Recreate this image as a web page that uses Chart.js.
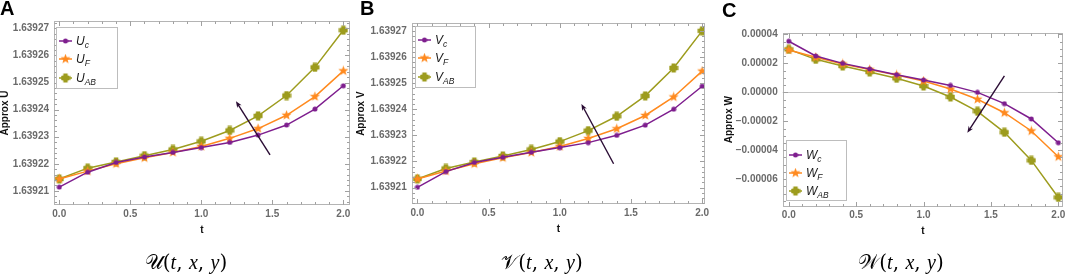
<!DOCTYPE html>
<html><head><meta charset="utf-8">
<script src="https://cdn.jsdelivr.net/npm/chart.js@4.4.1/dist/chart.umd.min.js"></script>
<style>
body{margin:0;background:#fff;overflow:hidden}
#wrap{position:relative;width:1065px;height:276px;overflow:hidden;background:#fff}
canvas.ch{position:absolute;top:0}
.letter{position:absolute;font:bold 20px "Liberation Sans",Arial,sans-serif;line-height:20px;color:#000}
.legend{position:absolute;border:1px solid #bdbdbd;background:#fff;box-sizing:border-box}
.row{position:absolute;left:1px;height:14px;display:flex;align-items:center;font:italic 12px "Liberation Sans",Arial,sans-serif;color:#1a1a1a}
.row canvas{margin-right:3px}
.row sub{font-size:8.5px;vertical-align:-3px;line-height:0}
.cap{position:absolute;top:250px;font:20px "DejaVu Serif","Liberation Serif",serif;white-space:nowrap;transform:translateX(-50%)}
.cap i{font-family:"Liberation Serif",serif;font-style:italic}
</style></head>
<body>
<div id="wrap">
<canvas id="cA" class="ch" width="360" height="276" style="left:0"></canvas>
<canvas id="cB" class="ch" width="360" height="276" style="left:355px"></canvas>
<canvas id="cC" class="ch" width="370" height="276" style="left:710px"></canvas>
<div class="letter" style="left:0;top:-2px">A</div>
<div class="letter" style="left:360px;top:-2px">B</div>
<div class="letter" style="left:722px;top:0px">C</div>
<div class="legend" style="left:56px;top:27px;width:62px;height:62px">
 <div class="row" style="top:6px"><canvas data-m="circle" data-c="#7e1e8e"></canvas><span>U<sub>c</sub></span></div>
 <div class="row" style="top:24px"><canvas data-m="star" data-c="#ff8a1f"></canvas><span>U<sub>F</sub></span></div>
 <div class="row" style="top:43px"><canvas data-m="plus" data-c="#9d9c1e"></canvas><span>U<sub>AB</sub></span></div>
</div>
<div class="legend" style="left:415px;top:26px;width:61px;height:62px">
 <div class="row" style="top:6px"><canvas data-m="circle" data-c="#7e1e8e"></canvas><span>V<sub>c</sub></span></div>
 <div class="row" style="top:24px"><canvas data-m="star" data-c="#ff8a1f"></canvas><span>V<sub>F</sub></span></div>
 <div class="row" style="top:43px"><canvas data-m="plus" data-c="#9d9c1e"></canvas><span>V<sub>AB</sub></span></div>
</div>
<div class="legend" style="left:786px;top:140px;width:61px;height:61px">
 <div class="row" style="top:7px"><canvas data-m="circle" data-c="#7e1e8e"></canvas><span>W<sub>c</sub></span></div>
 <div class="row" style="top:25px"><canvas data-m="star" data-c="#ff8a1f"></canvas><span>W<sub>F</sub></span></div>
 <div class="row" style="top:43px"><canvas data-m="plus" data-c="#9d9c1e"></canvas><span>W<sub>AB</sub></span></div>
</div>
<div class="cap" style="left:186px">𝒰(<i>t</i>, <i>x</i>, <i>y</i>)</div>
<div class="cap" style="left:542px">𝒱(<i>t</i>, <i>x</i>, <i>y</i>)</div>
<div class="cap" style="left:901px">𝒲(<i>t</i>, <i>x</i>, <i>y</i>)</div>
</div>
<script>
// ---------- data ----------
const tValues = [0, 0.2, 0.4, 0.6, 0.8, 1.0, 1.2, 1.4, 1.6, 1.8, 2.0];

const Uc  = [1.6392114, 1.6392169, 1.6392205, 1.6392225, 1.6392242, 1.6392260, 1.6392279, 1.6392306, 1.6392343, 1.6392402, 1.6392488];
const UF  = [1.6392144, 1.6392173, 1.6392200, 1.6392222, 1.6392242, 1.6392264, 1.6392294, 1.6392330, 1.6392379, 1.6392448, 1.6392543];
const UAB = [1.6392144, 1.6392184, 1.6392207, 1.6392230, 1.6392253, 1.6392283, 1.6392323, 1.6392377, 1.6392452, 1.6392556, 1.6392693];

const Vc  = [1.6392101, 1.6392161, 1.6392196, 1.6392216, 1.6392235, 1.6392253, 1.6392272, 1.6392300, 1.6392339, 1.6392400, 1.6392488];
const VF  = [1.6392133, 1.6392163, 1.6392191, 1.6392214, 1.6392234, 1.6392257, 1.6392288, 1.6392325, 1.6392376, 1.6392447, 1.6392546];
const VAB = [1.6392133, 1.6392173, 1.6392198, 1.6392221, 1.6392246, 1.6392276, 1.6392318, 1.6392373, 1.6392451, 1.6392558, 1.6392700];

const Wc  = [3.53e-5, 2.51e-5, 2.00e-5, 1.61e-5, 1.22e-5, 0.85e-5, 0.48e-5, 0.00e-5, -0.78e-5, -1.84e-5, -3.48e-5];
const WF  = [2.93e-5, 2.42e-5, 1.96e-5, 1.57e-5, 1.20e-5, 0.78e-5, 0.23e-5, -0.48e-5, -1.41e-5, -2.67e-5, -4.45e-5];
const WAB = [2.97e-5, 2.28e-5, 1.82e-5, 1.41e-5, 0.97e-5, 0.44e-5, -0.32e-5, -1.31e-5, -2.76e-5, -4.70e-5, -7.26e-5];

const xTicks   = [0, 0.5, 1.0, 1.5, 2.0];
const yTicksUV = [1.63921, 1.63922, 1.63923, 1.63924, 1.63925, 1.63926, 1.63927];
const yTicksW  = [-0.00006, -0.00004, -0.00002, 0, 0.00002, 0.00004];

// annotation arrows (data coordinates)
const arrowU = {from: [1.484, 1.6392233], to: [1.244, 1.6392431]};
const arrowV = {from: [1.378, 1.6392191], to: [1.152, 1.6392420]};
const arrowW = {from: [1.600, 1.13e-5],  to: [1.325, -2.79e-5]};

// ---------- styling ----------
const COL = {c: '#7e1e8e', F: '#ff8a1f', AB: '#9d9c1e'};

function makeMarker(kind, color) {
  const c = document.createElement('canvas');
  const s = kind === 'circle' ? 6 : (kind === 'star' ? 11 : 10);
  c.width = s; c.height = s;
  const g = c.getContext('2d');
  g.fillStyle = color;
  const m = s / 2;
  if (kind === 'circle') {
    g.beginPath(); g.arc(m, m, 2.5, 0, Math.PI * 2); g.fill();
  } else if (kind === 'star') {
    g.beginPath();
    for (let i = 0; i < 10; i++) {
      const r = i % 2 ? 2.2 : 5.3;
      const a = -Math.PI / 2 + i * Math.PI / 5;
      g.lineTo(m + r * Math.cos(a), m + r * Math.sin(a));
    }
    g.closePath(); g.fill();
  } else {
    g.fillRect(m - 2.2, 0.5, 4.4, s - 1);
    g.fillRect(0.5, m - 2.2, s - 1, 4.4);
    g.beginPath(); g.arc(m, m, 3.3, 0, Math.PI * 2); g.fill();
  }
  return c;
}

// legend icons
document.querySelectorAll('.row canvas').forEach(cv => {
  cv.width = 15; cv.height = 12;
  const g = cv.getContext('2d');
  const col = cv.dataset.c;
  g.strokeStyle = col; g.lineWidth = 1.5;
  g.beginPath(); g.moveTo(1, 6); g.lineTo(14, 6); g.stroke();
  const mk = makeMarker(cv.dataset.m, col);
  g.drawImage(mk, 7.5 - mk.width / 2, 6 - mk.height / 2);
});

const framePlugin = {
  id: 'frame',
  beforeDatasetsDraw(chart, args, o) {
    const {ctx, chartArea: a, scales: {x, y}} = chart;
    if (o.zero) {
      const py = Math.round(y.getPixelForValue(0)) + 0.5;
      ctx.save(); ctx.strokeStyle = '#c6c6c6'; ctx.lineWidth = 1;
      ctx.beginPath(); ctx.moveTo(a.left, py); ctx.lineTo(a.right, py); ctx.stroke();
      ctx.restore();
    }
  },
  afterDatasetsDraw(chart, args, o) {
    const {ctx, chartArea: a, scales: {x, y}} = chart;
    ctx.save();
    ctx.strokeStyle = '#b4b4b4'; ctx.lineWidth = 1;
    const L = Math.round(a.left) + 0.5, R = Math.round(a.right) - 0.5;
    const T = Math.round(a.top) + 0.5, B = Math.round(a.bottom) - 0.5;
    ctx.strokeRect(L, T, R - L, B - T);
    ctx.strokeStyle = '#a0a0a0';
    ctx.beginPath();
    const tickX = (v, len) => {
      const px = Math.round(x.getPixelForValue(v)) + 0.5;
      if (px < L || px > R) return;
      ctx.moveTo(px, B); ctx.lineTo(px, B - len);
      ctx.moveTo(px, T); ctx.lineTo(px, T + len);
    };
    const tickY = (v, len) => {
      const py = Math.round(y.getPixelForValue(v)) + 0.5;
      if (py < T || py > B) return;
      ctx.moveTo(L, py); ctx.lineTo(L + len, py);
      ctx.moveTo(R, py); ctx.lineTo(R - len, py);
    };
    const xs = o.xMinor, ys = o.yMinor;
    for (let k = Math.ceil(x.min / xs); k * xs <= x.max; k++) tickX(k * xs, 2.5);
    for (let k = Math.ceil(y.min / ys); k * ys <= y.max; k++) tickY(k * ys, 2.5);
    o.xMajor.forEach(v => tickX(v, 4.5));
    o.yMajor.forEach(v => tickY(v, 4.5));
    ctx.stroke();
    // arrow
    const ar = o.arrow;
    if (ar) {
      const x1 = x.getPixelForValue(ar.from[0]), y1 = y.getPixelForValue(ar.from[1]);
      const x2 = x.getPixelForValue(ar.to[0]),   y2 = y.getPixelForValue(ar.to[1]);
      const ang = Math.atan2(y2 - y1, x2 - x1);
      const hl = 7, hw = 0.38;
      ctx.strokeStyle = '#2a0c34'; ctx.fillStyle = '#2a0c34'; ctx.lineWidth = 1.4;
      ctx.beginPath(); ctx.moveTo(x1, y1);
      ctx.lineTo(x2 - 4 * Math.cos(ang), y2 - 4 * Math.sin(ang)); ctx.stroke();
      ctx.beginPath(); ctx.moveTo(x2, y2);
      ctx.lineTo(x2 - hl * Math.cos(ang - hw), y2 - hl * Math.sin(ang - hw));
      ctx.lineTo(x2 - 4.5 * Math.cos(ang), y2 - 4.5 * Math.sin(ang));
      ctx.lineTo(x2 - hl * Math.cos(ang + hw), y2 - hl * Math.sin(ang + hw));
      ctx.closePath(); ctx.fill();
    }
    ctx.restore();
  }
};

const tickFont = {family: '"Liberation Sans", Arial, sans-serif', size: 10, weight: 'bold'};
const titleFont = {family: '"Liberation Sans", Arial, sans-serif', size: 10, weight: 'bold', lineHeight: 1};

function ds(label, arr, key, kind) {
  return {
    label,
    data: tValues.map((t, i) => ({x: t, y: arr[i]})),
    borderColor: COL[key], backgroundColor: COL[key],
    borderWidth: 1.5, tension: 0,
    pointStyle: makeMarker(kind, COL[key]), pointRadius: 4, pointHoverRadius: 4
  };
}

function makeChart(id, cfg) {
  const cv = document.getElementById(id);
  const W = cv.width, H = cv.height, XH = 36;
  new Chart(cv, {
    type: 'line',
    data: {datasets: cfg.datasets},
    options: {
      responsive: false, animation: false, devicePixelRatio: 1,
      layout: {padding: {left: 0, top: cfg.area.top, right: W - cfg.area.right, bottom: H - cfg.area.bottom - XH}},
      plugins: {
        legend: {display: false}, tooltip: {enabled: false},
        frame: {xMinor: 0.1, yMinor: cfg.yMinor, xMajor: xTicks, yMajor: cfg.yTicks, zero: cfg.zero, arrow: cfg.arrow}
      },
      scales: {
        x: {
          type: 'linear', min: cfg.xmin, max: cfg.xmax,
          grid: {display: false, drawTicks: false}, border: {display: false},
          afterFit: s => { s.height = XH; },
          afterBuildTicks: s => { s.ticks = xTicks.map(v => ({value: v})); },
          ticks: {font: tickFont, color: '#6a6a6a', padding: 3, autoSkip: false, maxRotation: 0,
                  callback: v => Number(v).toFixed(1)},
          title: {display: true, text: 't', font: titleFont, color: '#111', padding: {top: 0, bottom: 6}}
        },
        y: {
          type: 'linear', min: cfg.ymin, max: cfg.ymax,
          grid: {display: false, drawTicks: false}, border: {display: false},
          afterFit: s => { s.width = cfg.area.left; },
          afterBuildTicks: s => { s.ticks = cfg.yTicks.map(v => ({value: v})); },
          ticks: {font: tickFont, color: '#6a6a6a', padding: 5, autoSkip: false,
                  callback: v => Number(v).toFixed(5).replace('-', '\u2212')},
          title: {display: true, text: cfg.ytitle, font: titleFont, color: '#111', padding: {top: cfg.titlePad, bottom: 0}}
        }
      }
    },
    plugins: [framePlugin]
  });
}

makeChart('cA', {
  datasets: [ds('Uc', Uc, 'c', 'circle'), ds('UF', UF, 'F', 'star'), ds('UAB', UAB, 'AB', 'plus')],
  area: {left: 54, right: 350, top: 21, bottom: 205},
  xmin: -0.037, xmax: 2.047, ymin: 1.6392048, ymax: 1.6392727,
  yTicks: yTicksUV, yMinor: 0.000002, ytitle: 'Approx U', titlePad: 0, arrow: arrowU
});
makeChart('cB', {
  datasets: [ds('Vc', Vc, 'c', 'circle'), ds('VF', VF, 'F', 'star'), ds('VAB', VAB, 'AB', 'plus')],
  area: {left: 56.7, right: 350, top: 23.3, bottom: 204},
  xmin: -0.04, xmax: 2.02, ymin: 1.6392037, ymax: 1.6392729,
  yTicks: yTicksUV, yMinor: 0.000002, ytitle: 'Approx V', titlePad: 1.5, arrow: arrowV
});
makeChart('cC', {
  datasets: [ds('Wc', Wc, 'c', 'circle'), ds('WF', WF, 'F', 'star'), ds('WAB', WAB, 'AB', 'plus')],
  area: {left: 72.7, right: 353.3, top: 32.7, bottom: 206.7},
  xmin: -0.045, xmax: 2.037, ymin: -7.9e-5, ymax: 4.12e-5,
  yTicks: yTicksW, yMinor: 0.000005, ytitle: 'Approx W', titlePad: 14, zero: true, arrow: arrowW
});
</script>
</body></html>
